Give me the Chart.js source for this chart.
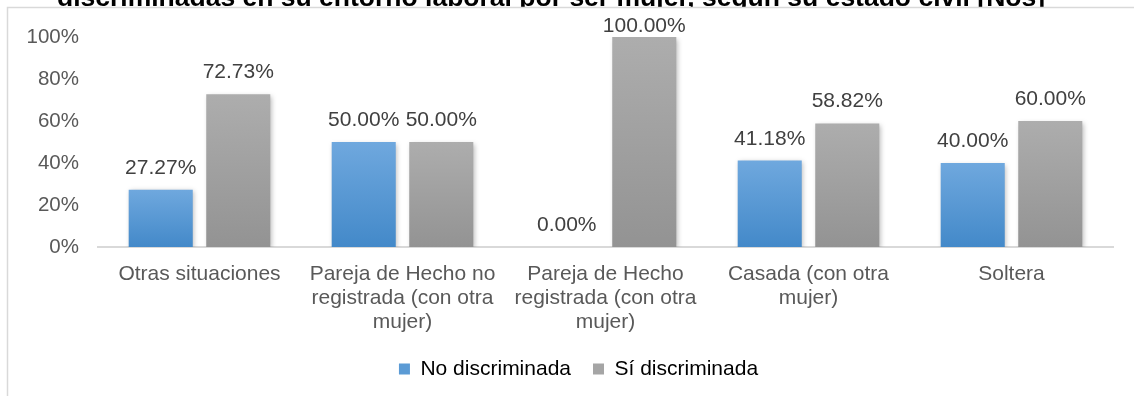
<!DOCTYPE html>
<html>
<head>
<meta charset="utf-8">
<script src="https://cdn.jsdelivr.net/npm/chart.js@4"></script>
<style>
  html, body { margin: 0; padding: 0; background: #fff; }
  #wrap { position: relative; width: 1134px; height: 396px; }
</style>
</head>
<body>
<div id="wrap"><canvas id="estado-civil-chart"></canvas></div>
<script>
const titleText = "discriminadas en su entorno laboral por ser mujer, según su estado civil [Nos]";

const categories = [
  ["Otras situaciones"],
  ["Pareja de Hecho no", "registrada (con otra", "mujer)"],
  ["Pareja de Hecho", "registrada (con otra", "mujer)"],
  ["Casada (con otra", "mujer)"],
  ["Soltera"]
];
const seriesNames = ["No discriminada", "Sí discriminada"];
const noDiscriminada = [27.27, 50.00, 0.00, 41.18, 40.00];
const siDiscriminada = [72.73, 50.00, 100.00, 58.82, 60.00];
const yTicks = [0, 20, 40, 60, 80, 100];

const legendColors = ["#5b9bd5", "#a5a5a5"];

Chart.defaults.font.family = '"Liberation Sans", Arial, sans-serif';

// vertical gradient per bar, light at the top, darker at the base
function barGradient(top, bottom) {
  return (context) => {
    const { ctx, chartArea, scales } = context.chart;
    if (!chartArea || context.type !== "data") return bottom;
    const yTop = scales.y.getPixelForValue(context.raw);
    const yBase = scales.y.getPixelForValue(0);
    if (yBase - yTop < 1) return bottom;
    const g = ctx.createLinearGradient(0, yTop, 0, yBase);
    g.addColorStop(0, top);
    g.addColorStop(1, bottom);
    return g;
  };
}

const frameAndLabels = {
  id: "frameAndLabels",
  afterLayout(chart) {
    // legend sits a little right of the canvas centre
    chart.legend.left += 18;
    chart.legend.right += 18;
  },
  beforeDraw(chart) {
    const { ctx, width, height } = chart;
    // title strip, cut off by the frame
    ctx.save();
    ctx.beginPath();
    ctx.rect(0, 0, width, 7);
    ctx.clip();
    ctx.font = 'bold 26.5px "Liberation Sans", Arial, sans-serif';
    ctx.fillStyle = "#000";
    ctx.textAlign = "center";
    ctx.textBaseline = "alphabetic";
    ctx.fillText(titleText, 551, 6);
    ctx.restore();

    ctx.save();
    ctx.strokeStyle = "#d9d9d9";
    ctx.lineWidth = 1.5;
    ctx.beginPath();
    ctx.moveTo(7.5, height);
    ctx.lineTo(7.5, 7.5);
    ctx.lineTo(width, 7.5);
    ctx.stroke();
    ctx.restore();
  },
  beforeDatasetsDraw(chart) {
    const ctx = chart.ctx;
    ctx.save();
    ctx.shadowColor = "rgba(0,0,0,0.28)";
    ctx.shadowBlur = 5;
    ctx.shadowOffsetX = 1.5;
    ctx.shadowOffsetY = 1.5;
  },
  afterDatasetsDraw(chart) {
    const { ctx, chartArea } = chart;
    ctx.restore();
    ctx.save();
    ctx.font = '21px "Liberation Sans", Arial, sans-serif';
    ctx.fillStyle = "#404040";
    ctx.textAlign = "center";
    ctx.textBaseline = "alphabetic";
    chart.data.datasets.forEach((ds, i) => {
      chart.getDatasetMeta(i).data.forEach((bar, j) => {
        const y = Math.max(bar.y - 16, chartArea.top - 5);
        ctx.fillText(ds.data[j].toFixed(2) + "%", bar.x, y);
      });
    });
    ctx.restore();
  }
};

new Chart(document.getElementById("estado-civil-chart"), {
  type: "bar",
  data: {
    labels: categories,
    datasets: [
      {
        label: seriesNames[0],
        data: noDiscriminada,
        backgroundColor: barGradient("#6fa8de", "#4389c9"),
        borderWidth: 0
      },
      {
        label: seriesNames[1],
        data: siDiscriminada,
        backgroundColor: barGradient("#adadad", "#939393"),
        borderWidth: 0
      }
    ]
  },
  options: {
    responsive: true,
    maintainAspectRatio: false,
    animation: false,
    datasets: { bar: { categoryPercentage: 0.764, barPercentage: 0.826 } },
    layout: { padding: { left: 8, right: 21, top: 37, bottom: 6.5 } },
    plugins: {
      title: { display: false },
      tooltip: { enabled: false },
      legend: {
        position: "bottom",
        labels: {
          boxWidth: 11,
          boxHeight: 11,
          padding: 22,
          color: "#595959",
          font: { size: 21 },
          generateLabels: (chart) => chart.data.datasets.map((ds, i) => ({
            text: ds.label,
            fillStyle: legendColors[i],
            strokeStyle: legendColors[i],
            lineWidth: 0,
            hidden: false,
            datasetIndex: i
          }))
        }
      }
    },
    scales: {
      x: {
        grid: { display: false, drawTicks: false },
        border: { display: true, color: "#d9d9d9", width: 2 },
        ticks: {
          color: "#595959",
          font: { size: 21, lineHeight: 1.15 },
          padding: 15,
          maxRotation: 0,
          autoSkip: false
        },
        afterFit: (scale) => { scale.height = 89.5; }
      },
      y: {
        min: 0,
        max: 100,
        grid: { display: false, drawTicks: false },
        border: { display: false },
        ticks: {
          color: "#595959",
          font: { size: 20.5 },
          padding: 19,
          callback: (v) => v + "%"
        },
        afterBuildTicks: (scale) => { scale.ticks = yTicks.map((v) => ({ value: v })); },
        afterFit: (scale) => { scale.width = 90; }
      }
    }
  },
  plugins: [frameAndLabels]
});
</script>
</body>
</html>
